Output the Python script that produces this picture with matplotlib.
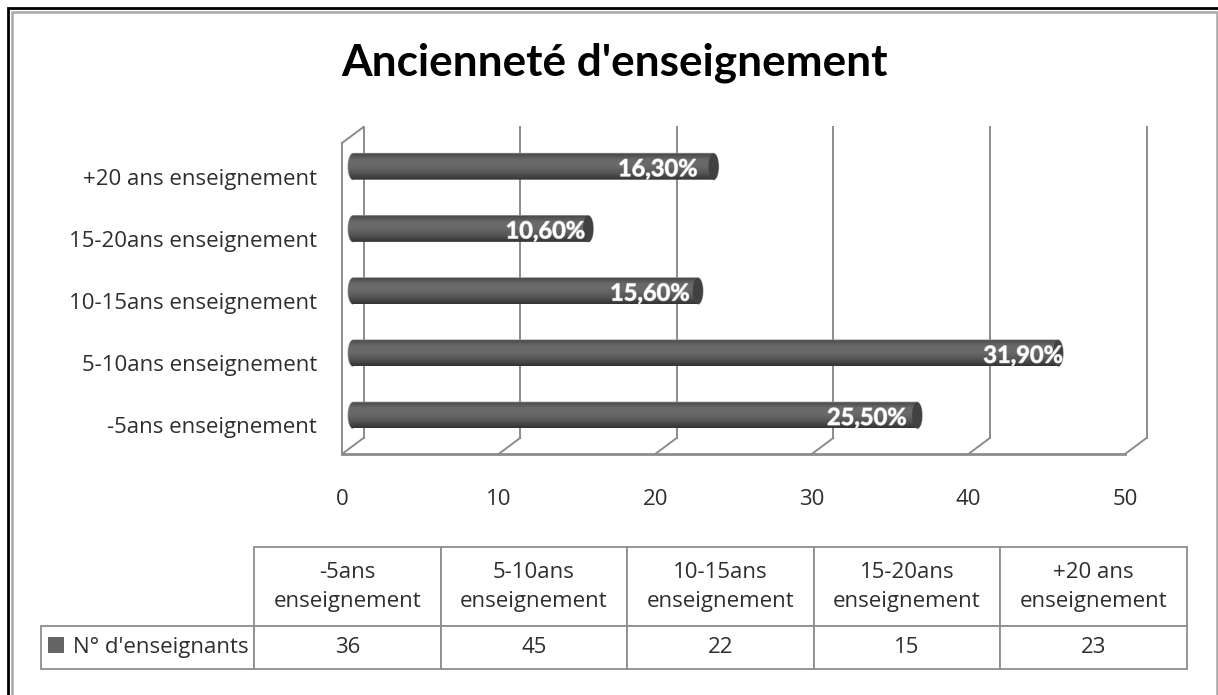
import numpy as np
import matplotlib
matplotlib.use("Agg")
import matplotlib.pyplot as plt
import matplotlib.patheffects as pe
from matplotlib.patches import Ellipse, Rectangle, PathPatch
from matplotlib.path import Path
from matplotlib.transforms import ScaledTranslation
from matplotlib.colors import LinearSegmentedColormap

# donnees
categories = ["-5ans enseignement", "5-10ans enseignement", "10-15ans enseignement",
              "15-20ans enseignement", "+20 ans enseignement"]
table_headers = ["-5ans\nenseignement", "5-10ans\nenseignement", "10-15ans\nenseignement",
                 "15-20ans\nenseignement", "+20 ans\nenseignement"]
values = [36, 45, 22, 15, 23]
percents = ["25,50%", "31,90%", "15,60%", "10,60%", "16,30%"]
series_name = "N° d'enseignants"
title = "Ancienneté d'enseignement"
xticks = [0, 10, 20, 30, 40, 50]

# decalage des etiquettes depuis le bout de la barre (px)
label_shift = [15, 0, 13, 8, 21]

W, H = 1218, 695
GRID = "#8c8c8c"
TEXT = "#2e2e2e"
plt.rcParams['font.family'] = ["Open Sans", 'DejaVu Sans']

fig = plt.figure(figsize=(W / 100, H / 100), dpi=100)


def px_axes(x0, y0, x1, y1):
    return fig.add_axes([x0 / W, 1 - y1 / H, (x1 - x0) / W, (y1 - y0) / H])


# cadre : noir en haut et a gauche, gris a l'interieur
fig.add_artist(Rectangle((8 / W, -0.02), (W + 10) / W, 1.008, transform=fig.transFigure,
                         fill=False, ec="black", lw=2))
fig.add_artist(Rectangle((11.5 / W, -0.02), (W - 13) / W, 1.003, transform=fig.transFigure,
                         fill=False, ec="#a8a8a8", lw=1.8))

fig.text(614 / W, 1 - 63 / H, title, ha="center", va="center", fontsize=31.8,
         fontweight="bold", color="black", family=["Lato", "DejaVu Sans"])

# graphique : plan avant de 342 a 1125, sol a y=454
ax = px_axes(342, 143, 1125, 454)
ax.set_xlim(0, 50)
ax.set_ylim(-0.5, 4.5)
ax.patch.set_alpha(0)
for s in ax.spines.values():
    s.set_visible(False)

DX, DY = 21.5, 16
back = ax.get_xaxis_transform() + ScaledTranslation(DX / 100, DY / 100, fig.dpi_scale_trans)
mid = ax.transData + ScaledTranslation((DX / 2 + 0.5) / 100, (DY / 2 - 0.5) / 100, fig.dpi_scale_trans)

# parois 3D
for t in xticks:
    ax.plot([t, t], [0, 1], transform=back, color=GRID, lw=1.4, clip_on=False, zorder=1)
    xa, ya = ax.transData.transform((t, -0.5))
    fig.add_artist(plt.Line2D([xa / W, (xa + DX) / W], [ya / H, (ya + DY) / H], color=GRID, lw=1.4))
ax.plot([0, 50], [-0.5, -0.5], color=GRID, lw=2, clip_on=False, zorder=1)
ax.plot([0, 0], [-0.5, 4.5], color=GRID, lw=1.4, clip_on=False, zorder=1)
xa, ya = ax.transData.transform((0, 4.5))
fig.add_artist(plt.Line2D([xa / W, (xa + DX) / W], [ya / H, (ya + DY) / H], color=GRID, lw=1.4))

# barres cylindriques
bar_h = 0.42
cap_px = 5
cap_r = cap_px / (783 / 50)
cyl = LinearSegmentedColormap.from_list("cyl", ["#454545", "#6b6a6b", "#6a696a", "#565556", "#333333"])
grad = np.linspace(0, 1, 64).reshape(-1, 1)
th = np.linspace(-np.pi / 2, np.pi / 2, 24)
for i, v in enumerate(values):
    xs = np.r_[v + cap_r * np.cos(th), 0 - cap_r * np.cos(th[::-1])]
    ys = np.r_[i + bar_h / 2 * np.sin(th), i + bar_h / 2 * np.sin(th[::-1])]
    outline = PathPatch(Path(np.c_[xs, ys]), transform=mid, fc="none", ec="#9a9a9a", lw=1, zorder=3)
    ax.add_patch(outline)
    im = ax.imshow(grad, extent=[-cap_r, v + cap_r, i - bar_h / 2, i + bar_h / 2], cmap=cyl,
                   aspect="auto", transform=mid, zorder=3, vmin=0, vmax=1)
    im.set_clip_path(outline)
    ax.add_patch(Ellipse((v, i), 2 * cap_r, bar_h, transform=mid, fc="#424142", ec="none", zorder=4))
    ax.annotate(percents[i], xy=(v, i), xycoords=mid,
                xytext=((cap_px - label_shift[i]) * 0.72, -1.5),
                textcoords="offset points", ha="right", va="center", color="white",
                fontsize=17, fontweight="bold", zorder=5,
                family=["Lato", "DejaVu Sans"],
                path_effects=[pe.withStroke(linewidth=0.8, foreground="#b9b9b9")])
ax.set_xlim(0, 50)
ax.set_ylim(-0.5, 4.5)

ax.set_xticks(xticks)
ax.set_yticks(range(len(categories)))
ax.set_yticklabels(categories)
ax.tick_params(axis="both", length=0, labelsize=16, labelcolor=TEXT)
ax.tick_params(axis="x", pad=25)
ax.tick_params(axis="y", pad=18)
for lab in ax.get_yticklabels():
    lab.set_transform(lab.get_transform() + ScaledTranslation(0, -0.025, fig.dpi_scale_trans))

# tableau de donnees
tab_ax = px_axes(41, 547, 1187, 669)
tab_ax.axis("off")
col_w = [213 / 1146] + [186.6 / 1146] * 5
tbl = tab_ax.table(cellText=[[""] + table_headers, [series_name] + [str(v) for v in values]],
                   colWidths=col_w, bbox=[0, 0, 1, 1], cellLoc="center")
tbl.auto_set_font_size(False)
tbl.set_fontsize(16)
for (r, c), cell in tbl.get_celld().items():
    cell.set_edgecolor("#8e8e8e")
    cell.set_linewidth(1.3)
    cell.set_height(79 / 122 if r == 0 else 43 / 122)
    cell.get_text().set_color(TEXT)
    cell.get_text().set_linespacing(1.5)
tbl[(0, 0)].set_visible(False)
tab_ax.add_patch(Rectangle((7 / 1146, 16 / 122), 16 / 1146, 16 / 122, transform=tab_ax.transAxes,
                           fc="#666566", ec="none", zorder=10))
tbl[(1, 0)].get_text().set_ha("left")
tbl[(1, 0)].PAD = 0.15

fig.savefig("out.png", dpi=100, facecolor="white")
